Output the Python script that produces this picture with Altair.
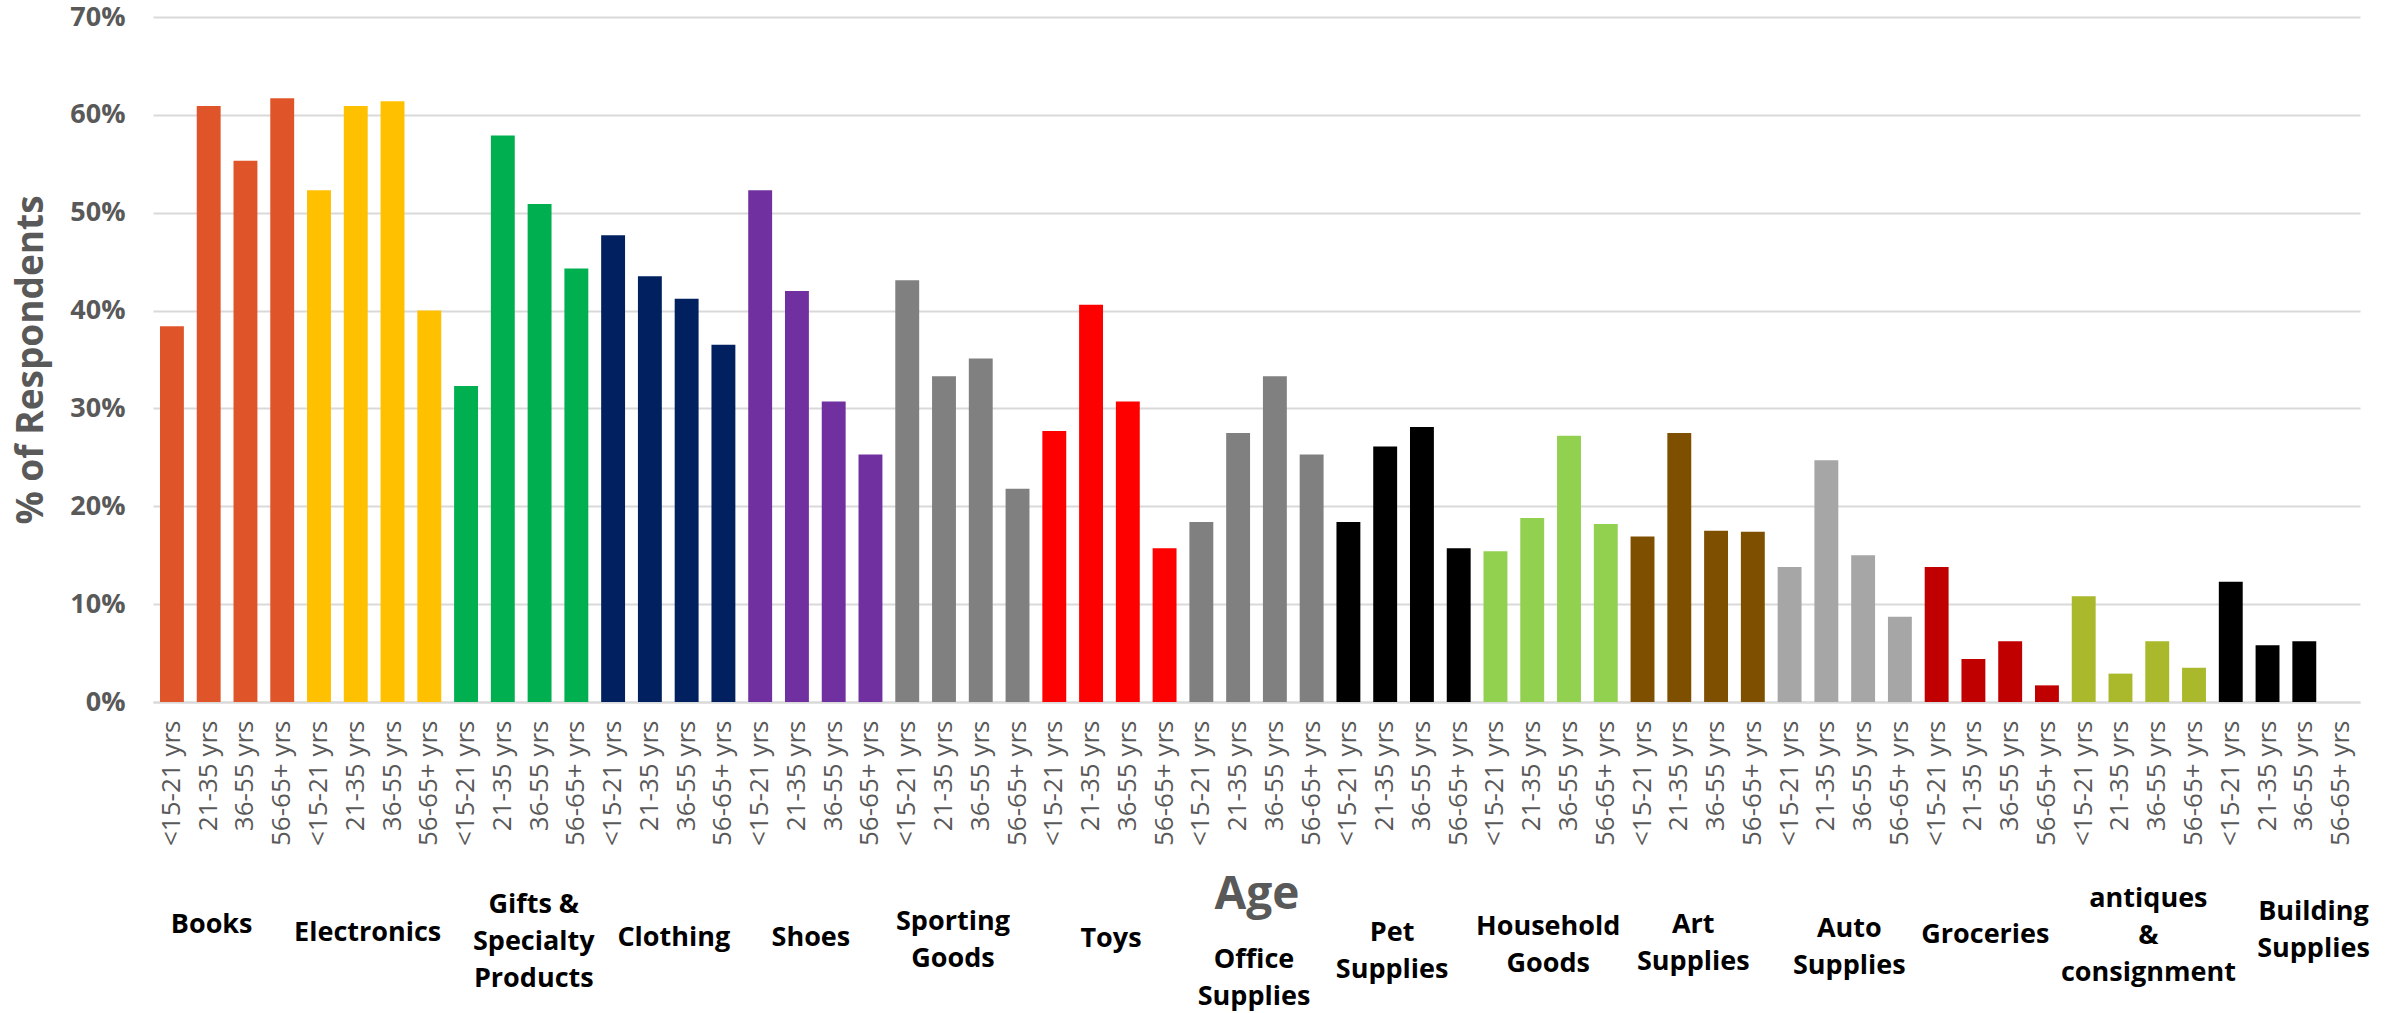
import altair as alt
import pandas as pd

# Product categories (as plotted) and their multi-line captions
categories = [
    "Books", "Electronics", "Gifts & Specialty Products", "Clothing", "Shoes",
    "Sporting Goods", "Toys", "Office Supplies", "Pet Supplies", "Household Goods",
    "Art Supplies", "Auto Supplies", "Groceries", "antiques & consignment",
    "Building Supplies",
]
captions = [
    "Books", "Electronics", "Gifts &\nSpecialty\nProducts", "Clothing", "Shoes",
    "Sporting\nGoods", "Toys", "Office\nSupplies", "Pet\nSupplies", "Household\nGoods",
    "Art\nSupplies", "Auto\nSupplies", "Groceries", "antiques\n&\nconsignment",
    "Building\nSupplies",
]
age_groups = ["<15-21 yrs", "21-35 yrs", "36-55 yrs", "56-65+ yrs"]

# % of respondents per category, one list per age group
pct_15_21 = [38.4, 52.3, 32.3, 47.7, 52.3, 43.1, 27.7, 18.4, 18.4, 15.4, 16.9, 13.8, 13.8, 10.8, 12.3]
pct_21_35 = [60.9, 60.9, 57.9, 43.5, 42.0, 33.3, 40.6, 27.5, 26.1, 18.8, 27.5, 24.7, 4.4, 2.9, 5.8]
pct_36_55 = [55.3, 61.4, 50.9, 41.2, 30.7, 35.1, 30.7, 33.3, 28.1, 27.2, 17.5, 15.0, 6.2, 6.2, 6.2]
pct_56_65 = [61.7, 40.0, 44.3, 36.5, 25.3, 21.8, 15.7, 25.3, 15.7, 18.2, 17.4, 8.7, 1.7, 3.5, 0.0]

colors = [
    "#E0542A", "#FFC000", "#00B050", "#002060", "#7030A0",
    "#808080", "#FF0000", "#808080", "#000000", "#92D050",
    "#7F4F00", "#A6A6A6", "#C00000", "#A9B92B", "#000000",
]

# caption placement: horizontal nudge and first-line baseline below the plot top
caption_dx = [-9, 0, 19, 12, 2, -3, 8, 4, -5, 4, 2, 11, 0, 16, 34]
caption_base = [916, 924, 896, 929, 929, 913, 930, 951, 924, 918, 916, 920, 926, 890, 903]

series = [pct_15_21, pct_21_35, pct_36_55, pct_56_65]
rows = []
for i, cat in enumerate(categories):
    for j, age in enumerate(age_groups):
        rows.append({"key": f"{cat}|{age}", "category": cat, "age": age,
                     "share": series[j][i] / 100.0})
df = pd.DataFrame(rows)
keys = list(df["key"])

GRAY = "#595959"
GRID = "#D9D9D9"
W, H = 2207, 685

x_scale = alt.Scale(domain=keys, paddingInner=0.35, paddingOuter=0.19)

bars = alt.Chart(df).mark_bar().encode(
    x=alt.X(
        "key:N",
        scale=x_scale,
        axis=alt.Axis(
            title="Age",
            labelExpr="split(datum.value, '|')[1]",
            labelAngle=-90,
            labelAlign="right",
            labelBaseline="middle",
            labelFont="Open Sans",
            labelFontSize=26,
            labelColor=GRAY,
            labelPadding=18,
            labelOverlap=False,
            ticks=False,
            domain=True,
            domainColor=GRID,
            domainWidth=2,
            grid=False,
            titleFont="Open Sans",
            titleFontWeight="bold",
            titleFontSize=46,
            titleColor=GRAY,
            titleBaseline="alphabetic",
            titleY=206,
        ),
    ),
    y=alt.Y(
        "share:Q",
        scale=alt.Scale(domain=[0, 0.7], nice=False),
        axis=alt.Axis(
            title="% of Respondents",
            values=[0, 0.1, 0.2, 0.3, 0.4, 0.5, 0.6, 0.7],
            format=".0%",
            labelFont="Open Sans",
            labelFontWeight="bold",
            labelFontSize=27,
            labelColor=GRAY,
            labelPadding=28,
            ticks=False,
            domain=False,
            grid=True,
            gridColor=GRID,
            gridWidth=2,
            titleFont="Open Sans",
            titleFontWeight="bold",
            titleFontSize=37,
            titleColor=GRAY,
            titleAngle=-90,
            titleAlign="center",
            titleBaseline="middle",
            titleX=-122,
            titleY=H / 2,
        ),
    ),
    color=alt.Color("category:N", scale=alt.Scale(domain=categories, range=colors), legend=None),
)

# Category captions beneath the age labels, centred on each group of four bars
caption_layers = []
for i, cat in enumerate(categories):
    cdf = pd.DataFrame([{"key": f"{cat}|{age_groups[1]}", "label": captions[i]}])
    caption_layers.append(
        alt.Chart(cdf).mark_text(
            font="Open Sans",
            fontWeight="bold",
            fontSize=27,
            color="black",
            lineBreak="\n",
            lineHeight=37,
            align="center",
            baseline="alphabetic",
            dx=caption_dx[i],
        ).encode(
            x=alt.X("key:N", scale=x_scale, bandPosition=1, axis=None),
            y=alt.value(caption_base[i]),
            text="label:N",
        )
    )

chart = alt.layer(bars, *caption_layers).resolve_axis(x="independent").properties(
    width=W,
    height=H,
    padding={"left": 153, "top": 17, "right": 42, "bottom": 311},
    autosize="none",
    background="white",
).configure_view(stroke=None)

chart.save("out.html", embed_options={"renderer": "svg", "actions": False})
